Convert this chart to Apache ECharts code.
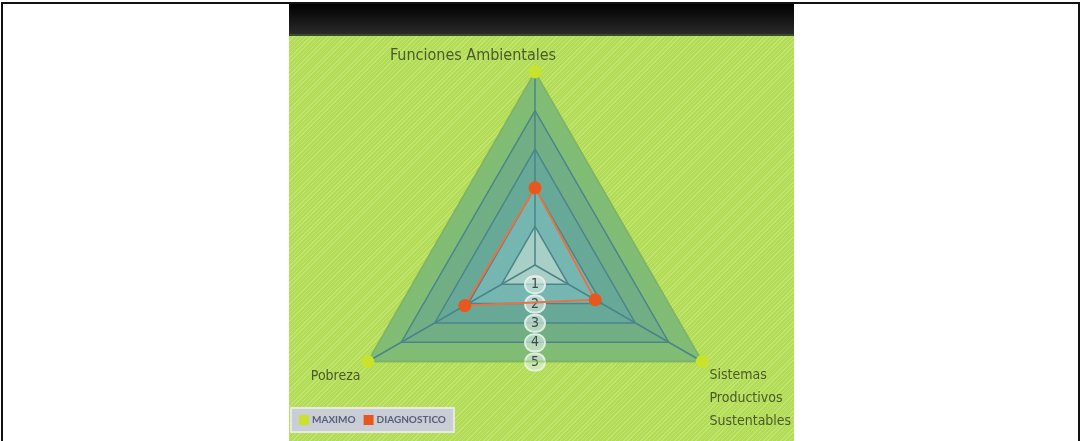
<!DOCTYPE html>
<html lang="es">
<head>
<meta charset="UTF-8">
<title>Diagnostico</title>
<script src="https://cdn.jsdelivr.net/npm/echarts@6/dist/echarts.min.js"></script>
<style>
  html, body { margin: 0; padding: 0; background: #fff; width: 1081px; height: 441px; overflow: hidden; }
  #frame { position: absolute; left: 1px; top: 2px; width: 1075px; height: 460px; border: 2px solid #111; border-bottom: none; }
  #panel { position: absolute; left: 289px; top: 4px; width: 505px; height: 440px;
           background: repeating-linear-gradient(135deg, #b2dc57 0px, #b2dc57 2px, #c2e56f 2px, #c2e56f 3px); }
  #head { position: absolute; left: 289px; top: 4px; width: 505px; height: 30px;
          background: linear-gradient(#000, #2a2a2a); border-bottom: 2px solid #3c4a2c; }
  #main { position: absolute; left: 0; top: 0; width: 1081px; height: 441px; }
</style>
</head>
<body>
<div id="frame"></div>
<div id="panel"></div>
<div id="head"></div>
<div id="main"></div>
<script type="text/javascript">
    // datos del grafico
    var indicadores = ['Funciones Ambientales', 'Pobreza', 'Sistemas Productivos Sustentables'];
    var maximo = [5, 5, 5];
    var diagnostico = [2, 2.1, 1.8];
    var escala = [0, 1, 2, 3, 4, 5];
    var series_nombres = ['MAXIMO', 'DIAGNOSTICO'];

    var fuente = "'DejaVu Sans Condensed', 'Liberation Sans Narrow', sans-serif";
    var chart = echarts.init(document.getElementById('main'));

    chart.setOption({
        animation: false,
        legend: {
            data: series_nombres,
            left: 291,
            top: 408,
            padding: [7, 8, 7, 8],
            itemGap: 8,
            itemWidth: 10,
            itemHeight: 10,
            icon: 'rect',
            backgroundColor: '#c9cdd6',
            borderColor: '#e6eadf',
            borderWidth: 2,
            textStyle: { color: '#5a5e78', fontSize: 10, fontFamily: 'Lato, sans-serif', fontWeight: 'bold', padding: [0, 0, 0, -2] }
        },
        radar: {
            center: [535, 265],
            radius: 193,
            startAngle: 90,
            splitNumber: 5,
            shape: 'polygon',
            indicator: indicadores.map(function (n) { return { name: n, min: escala[0], max: escala[escala.length - 1] }; }),
            axisName: {
                color: '#4b5a2a',
                fontSize: 16,
                fontFamily: fuente,
                lineHeight: 23,
                formatter: function (name) {
                    if (name === indicadores[0]) return '{t|' + name + '}';
                    if (name === indicadores[1]) return '{g1| }\n{p|' + name + '}';
                    return '{g3| }\n' + name.split(' ').map(function (w) { return '{s|' + w + '}'; }).join('\n');
                },
                rich: {
                    t: { fontSize: 16, fontFamily: fuente, color: '#4b5a2a', padding: [0, 124, 0, 0] },
                    p: { fontSize: 14, fontFamily: fuente, color: '#4b5a2a', lineHeight: 23, padding: [0, 3, 0, 0] },
                    s: { fontSize: 14, fontFamily: fuente, color: '#4b5a2a', lineHeight: 23, padding: [0, 0, 0, 3] },
                    g1: { height: 24, lineHeight: 24, fontSize: 4 },
                    g3: { height: 69, lineHeight: 69, fontSize: 4 }
                }
            },
            nameGap: 5,
            splitArea: {
                areaStyle: { color: ['#a6cdd2', '#6eb1bb', '#5fa29d', '#69a98a', '#7bb878'], opacity: 0.9 }
            },
            splitLine: { lineStyle: { color: '#4a8589', width: 1.5 } },
            axisLine: { lineStyle: { color: '#4a8589', width: 1.5 } }
        },
        grid: { left: 535, top: 265.3, width: 10, height: 96.7 },
        xAxis: { type: 'value', show: false },
        yAxis: {
            type: 'value',
            min: escala[0],
            max: escala[escala.length - 1],
            interval: 1,
            inverse: true,
            axisLine: { show: false },
            axisTick: { show: false },
            splitLine: { show: false },
            axisLabel: {
                showMinLabel: false,
                showMaxLabel: true,
                hideOverlap: false,
                margin: 0,
                align: 'center',
                color: '#3c4a48',
                fontSize: 14,
                fontFamily: fuente,
                backgroundColor: 'rgba(225,238,232,0.6)',
                borderColor: 'rgba(240,248,240,0.85)',
                borderWidth: 1,
                borderRadius: 10,
                width: 20,
                height: 17,
                lineHeight: 17
            }
        },
        series: [{
            name: series_nombres[0],
            type: 'radar',
            symbol: 'circle',
            symbolSize: 13,
            itemStyle: { color: '#c9e22c' },
            lineStyle: { color: 'rgba(160,210,80,0.6)', width: 2 },
            data: [{ value: maximo, name: series_nombres[0] }]
        }, {
            name: series_nombres[1],
            type: 'radar',
            symbol: 'circle',
            symbolSize: 13,
            itemStyle: { color: '#e8581e' },
            lineStyle: { color: '#e27548', width: 2 },
            data: [{ value: diagnostico, name: series_nombres[1] }]
        }]
    });
</script>
</body>
</html>
